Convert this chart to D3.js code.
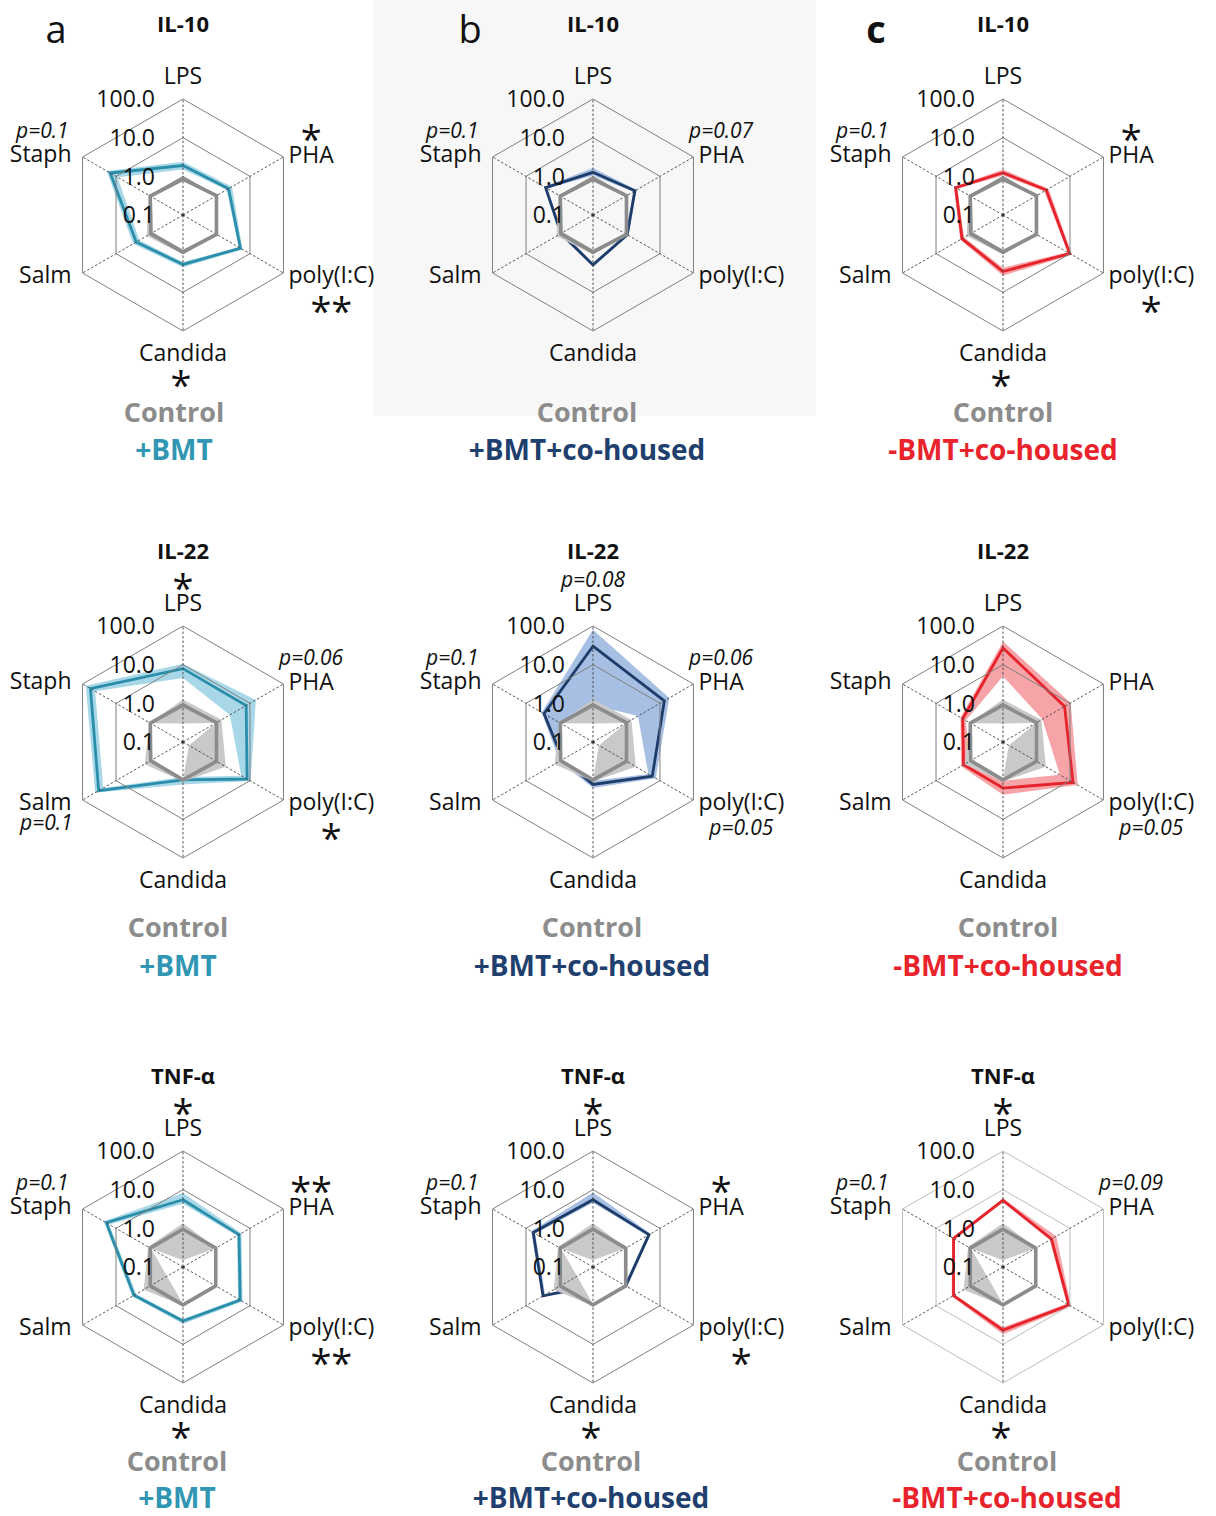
<!DOCTYPE html>
<html><head><meta charset="utf-8">
<script src="https://cdn.jsdelivr.net/npm/d3@7/dist/d3.min.js"></script>
<style>
body{margin:0;background:#fff;}
svg{display:block;font-family:"Open Sans",sans-serif;}
</style></head><body>
<svg id="chart" width="1216" height="1516"></svg>
<script>
// ---------------- DATA ----------------
const axes = ["LPS","PHA","poly(I:C)","Candida","Salm","Staph"];
const tickValues = [0.1, 1, 10, 100];
const tickLabels = ["0.1","1.0","10.0","100.0"];
const ringValues = [1, 10, 100];
const cytokines = ["IL-10","IL-22","TNF-α"];
const groups = ["+BMT","+BMT+co-housed","-BMT+co-housed"];
const panelLetters = ["a","b","c"];
const controlName = "Control";

// control (shared within each cytokine row), order = axes
const il10_ctrl_mean = [0.85, 1.0, 1.0, 0.9, 0.92, 0.95];
const il10_ctrl_hi   = [0.95, 1.08, 1.1, 1.05, 1.22, 1.05];
const il10_ctrl_lo   = [0.75, 0.9, 0.9, 0.8, 0.78, 0.85];
const il22_ctrl_mean = [0.9, 1.0, 1.0, 0.95, 0.92, 0.95];
const il22_ctrl_hi   = [1.25, 1.4, 1.9, 1.05, 1.4, 1.0];
const il22_ctrl_lo   = [0.3, 0.95, 0.15, 0.95, 0.9, 0.92];
const tnf_ctrl_mean  = [0.95, 0.95, 0.95, 0.95, 0.95, 0.95];
const tnf_ctrl_hi    = [1.35, 1.0, 1.0, 1.0, 1.5, 1.1];
const tnf_ctrl_lo    = [0.15, 0.9, 0.9, 0.9, 0.3, 0.9];

// IL-10
const il10_bmt_mean   = [1.9, 2.3, 5.2, 1.9, 2.5, 14.9];
const il10_bmt_hi     = [2.4, 2.9, 6.0, 2.25, 3.1, 19];
const il10_bmt_lo     = [1.5, 2.0, 4.6, 1.65, 2.0, 9];
const il10_bmtco_mean = [1.27, 1.78, 1.05, 1.95, 0.9, 2.6];
const il10_bmtco_hi   = [1.65, 2.0, 1.15, 2.2, 1.0, 2.85];
const il10_bmtco_lo   = [1.05, 1.6, 0.95, 1.75, 0.8, 2.35];
const il10_nobmt_mean = [1.24, 1.96, 9.8, 2.9, 1.67, 2.6];
const il10_nobmt_hi   = [1.5, 2.3, 11.5, 3.7, 1.9, 2.9];
const il10_nobmt_lo   = [1.05, 1.7, 8.5, 2.3, 1.45, 2.3];
// IL-22
const il22_bmt_mean   = [7.9, 7.7, 8.2, 0.95, 33, 58];
const il22_bmt_hi     = [10.5, 15, 10.5, 1.25, 42, 80];
const il22_bmt_lo     = [4.5, 2.5, 5.5, 0.8, 24, 42];
const il22_bmtco_mean = [30, 13.5, 5.9, 1.25, 0.8, 2.9];
const il22_bmtco_hi   = [80, 19, 7.5, 1.55, 1.0, 3.4];
const il22_bmtco_lo   = [0.9, 2.2, 4.5, 1.0, 0.6, 1.0];
const il22_nobmt_mean = [27, 6.9, 12.3, 1.55, 1.5, 1.6];
const il22_nobmt_hi   = [40, 10.5, 17, 2.3, 1.8, 1.85];
const il22_nobmt_lo   = [5, 1.5, 5, 1.0, 1.0, 1.3];
// TNF-a
const tnf_bmt_mean    = [5.5, 4.7, 5.1, 2.5, 2.9, 19.5];
const tnf_bmt_hi      = [8.2, 5.6, 6.0, 3.0, 3.3, 23];
const tnf_bmt_lo      = [4.3, 4.1, 4.4, 2.2, 2.5, 16];
const tnf_bmtco_mean  = [5.5, 4.7, 0.95, 0.3, 3.1, 6.1];
const tnf_bmtco_hi    = [8.5, 5.3, 1.05, 0.4, 3.4, 7.0];
const tnf_bmtco_lo    = [4.6, 4.2, 0.85, 0.25, 2.7, 5.3];
const tnf_nobmt_mean  = [5.3, 2.8, 9.3, 4.3, 3.0, 3.0];
const tnf_nobmt_hi    = [5.9, 3.9, 10.8, 5.5, 3.4, 3.3];
const tnf_nobmt_lo    = [4.7, 2.5, 8.0, 3.6, 2.7, 2.7];

// significance marks: [axis, side, text]
const il10_bmt_sig   = [["Staph","above","p=0.1"],["PHA","above","*"],["poly(I:C)","below","**"],["Candida","below","*"]];
const il10_bmtco_sig = [["Staph","above","p=0.1"],["PHA","above","p=0.07"]];
const il10_nobmt_sig = [["Staph","above","p=0.1"],["PHA","above","*"],["poly(I:C)","below","*"],["Candida","below","*"]];
const il22_bmt_sig   = [["LPS","above","*"],["PHA","above","p=0.06"],["poly(I:C)","below","*"],["Salm","below","p=0.1"]];
const il22_bmtco_sig = [["LPS","above","p=0.08"],["Staph","above","p=0.1"],["PHA","above","p=0.06"],["poly(I:C)","below","p=0.05"]];
const il22_nobmt_sig = [["poly(I:C)","below","p=0.05"]];
const tnf_bmt_sig    = [["LPS","above","*"],["Staph","above","p=0.1"],["PHA","above","**"],["poly(I:C)","below","**"],["Candida","below","*"]];
const tnf_bmtco_sig  = [["LPS","above","*"],["Staph","above","p=0.1"],["PHA","above","*"],["poly(I:C)","below","*"],["Candida","below","*"]];
const tnf_nobmt_sig  = [["LPS","above","*"],["Staph","above","p=0.1"],["PHA","above","p=0.09"],["Candida","below","*"]];

// ---------------- TABLES ----------------
const ctrlTable = [
  {mean: il10_ctrl_mean, hi: il10_ctrl_hi, lo: il10_ctrl_lo},
  {mean: il22_ctrl_mean, hi: il22_ctrl_hi, lo: il22_ctrl_lo},
  {mean: tnf_ctrl_mean,  hi: tnf_ctrl_hi,  lo: tnf_ctrl_lo}
];
const treatTable = [
  [{mean: il10_bmt_mean, hi: il10_bmt_hi, lo: il10_bmt_lo, sig: il10_bmt_sig},
   {mean: il10_bmtco_mean, hi: il10_bmtco_hi, lo: il10_bmtco_lo, sig: il10_bmtco_sig},
   {mean: il10_nobmt_mean, hi: il10_nobmt_hi, lo: il10_nobmt_lo, sig: il10_nobmt_sig}],
  [{mean: il22_bmt_mean, hi: il22_bmt_hi, lo: il22_bmt_lo, sig: il22_bmt_sig},
   {mean: il22_bmtco_mean, hi: il22_bmtco_hi, lo: il22_bmtco_lo, sig: il22_bmtco_sig},
   {mean: il22_nobmt_mean, hi: il22_nobmt_hi, lo: il22_nobmt_lo, sig: il22_nobmt_sig}],
  [{mean: tnf_bmt_mean, hi: tnf_bmt_hi, lo: tnf_bmt_lo, sig: tnf_bmt_sig},
   {mean: tnf_bmtco_mean, hi: tnf_bmtco_hi, lo: tnf_bmtco_lo, sig: tnf_bmtco_sig},
   {mean: tnf_nobmt_mean, hi: tnf_nobmt_hi, lo: tnf_nobmt_lo, sig: tnf_nobmt_sig}]
];

// ---------------- LAYOUT / STYLE ----------------
const R = 116;
const colX = [183, 593, 1003];
const rowY = [215, 742, 1267];
const legendDx = [[-9,-6,0],[-5,-1,5],[-6,-2,4]];
const legendDy = [[197,235],[185,224],[194,231]];
const lineColors = ["#2a8eab","#1e3c6a","#e6222a"];
const bandColors = ["#a8d8e8","#a7bfe3","#f6a4a8"];
const textColors = ["#3196b3","#1f3f6e","#e8232b"];
const ctrlLine = "#8c8c8c", ctrlFill = "#c9c9c9", ctrlText = "#8c8c8c";
const inkColor = "#111";
const panelBgB = "#f7f7f7";
const starSize = 38;

const svg = d3.select("#chart");
svg.append("rect").attr("x",373).attr("y",0).attr("width",443).attr("height",416).attr("fill",panelBgB);

const rScale = d3.scaleLog().domain([0.1, 100]).range([0, R]).clamp(true);
const radial = d3.lineRadial()
  .angle((d,i) => i*Math.PI/3)
  .radius(d => rScale(d))
  .curve(d3.curveLinearClosed);
const ang = i => -Math.PI/2 + i*Math.PI/3;

function panel(row, col) {
  const cx = colX[col], cy = rowY[row];
  const t = treatTable[row][col], c = ctrlTable[row];
  const bg = (row === 0 && col === 1) ? panelBgB : "#ffffff";
  const ringColor = (row === 2 && col === 2) ? "#bdbdbd" : "#7f7f7f";
  const g = svg.append("g").attr("transform", `translate(${cx},${cy})`);

  // treatment band
  g.append("path").attr("d", radial(t.hi)).attr("fill", bandColors[col]);
  g.append("path").attr("d", radial(t.lo)).attr("fill", bg);
  g.append("path").attr("d", radial(t.mean)).attr("fill","none")
    .attr("stroke", lineColors[col]).attr("stroke-width", 2.8).attr("stroke-linejoin","miter");
  // control band
  g.append("path").attr("d", radial(c.hi)).attr("fill", ctrlFill);
  g.append("path").attr("d", radial(c.lo)).attr("fill", bg);

  // grid
  ringValues.forEach(v => {
    g.append("path").attr("d", radial(axes.map(() => v)))
      .attr("fill","none").attr("stroke", ringColor).attr("stroke-width", 1);
  });
  axes.forEach((a,i) => {
    g.append("line").attr("x1",0).attr("y1",0)
      .attr("x2", R*Math.cos(ang(i))).attr("y2", R*Math.sin(ang(i)))
      .attr("stroke","#444").attr("stroke-width",0.9).attr("stroke-dasharray","2.5,2");
  });
  g.append("circle").attr("r",1.5).attr("fill","#333");

  // control line
  g.append("path").attr("d", radial(c.mean)).attr("fill","none")
    .attr("stroke", ctrlLine).attr("stroke-width", 3.6).attr("stroke-linejoin","miter");

  // tick labels
  tickValues.forEach((v,k) => {
    g.append("text").attr("x", -28).attr("y", -rScale(v) + 8.2)
      .attr("text-anchor","end").attr("font-size",23).attr("fill",inkColor)
      .text(tickLabels[k]);
  });

  // axis labels
  const lab = {};
  axes.forEach((a,i) => {
    const vx = R*Math.cos(ang(i)), vy = R*Math.sin(ang(i));
    let x, yc, anchor;
    if (i === 0) { x = 0; yc = -R - 23; anchor = "middle"; }
    else if (i === 1) { x = vx + 5; yc = vy - 2; anchor = "start"; }
    else if (i === 2) { x = vx + 5; yc = vy + 2; anchor = "start"; }
    else if (i === 3) { x = 0; yc = R + 22; anchor = "middle"; }
    else if (i === 4) { x = vx - 11; yc = vy + 2; anchor = "end"; }
    else { x = vx - 11; yc = vy - 3; anchor = "end"; }
    const tx = g.append("text").attr("x", x).attr("y", yc + 8.2)
      .attr("text-anchor", anchor).attr("font-size", 23).attr("fill", inkColor).text(a);
    const w = tx.node().getComputedTextLength();
    const left = anchor === "start" ? x : anchor === "end" ? x - w : x - w/2;
    lab[a] = {left, right: left + w, center: left + w/2, yc};
  });

  // significance
  t.sig.forEach(([axis, side, txt]) => {
    const L = lab[axis];
    const star = txt.startsWith("*");
    let x, yc, anchor = "middle";
    if (axis === "LPS") { x = 0; yc = L.yc - (star ? 23 : 24); }
    else if (axis === "PHA") { x = L.center; yc = L.yc - (star ? 24 : 25); }
    else if (axis === "poly(I:C)") { x = L.center; yc = L.yc + (star ? 28 : 25); }
    else if (axis === "Candida") { x = -2; yc = L.yc + 24; }
    else if (axis === "Staph") { x = L.right - 3; yc = L.yc - 24; anchor = "end"; }
    else { x = L.right + 1; yc = L.yc + 20; anchor = "end"; }
    if (star) {
      g.append("text").attr("x", x).attr("y", yc + 0.57*starSize).attr("text-anchor", anchor)
        .attr("font-size", starSize).attr("font-weight", 400)
        .attr("fill", inkColor).text(txt);
    } else {
      g.append("text").attr("x", x).attr("y", yc + 7.5).attr("text-anchor", anchor)
        .attr("font-size", 21).attr("font-style","italic").attr("fill", inkColor).text(txt);
    }
  });

  // title
  g.append("text").attr("x", 0).attr("y", -191 + 7.9).attr("text-anchor","middle")
    .attr("font-size", 22).attr("font-weight", 700).attr("fill", inkColor).text(cytokines[row]);

  // legend labels
  const dx = legendDx[row][col];
  g.append("text").attr("x", dx).attr("y", legendDy[row][0] + 9.6).attr("text-anchor","middle")
    .attr("font-size", 27).attr("font-weight", 700).attr("fill", ctrlText).text(controlName);
  g.append("text").attr("x", dx).attr("y", legendDy[row][1] + 10).attr("text-anchor","middle")
    .attr("font-size", 28).attr("font-weight", 700).attr("fill", textColors[col]).text(groups[col]);
}

for (let row = 0; row < 3; row++) for (let col = 0; col < 3; col++) panel(row, col);

// panel letters
const letterX = [56, 470, 876];
panelLetters.forEach((l,i) => {
  svg.append("text").attr("x", letterX[i]).attr("y", 43).attr("text-anchor","middle")
    .attr("font-size", 38).attr("font-weight", i === 2 ? 700 : 400).attr("fill", inkColor).text(l);
});
</script>
</body></html>
